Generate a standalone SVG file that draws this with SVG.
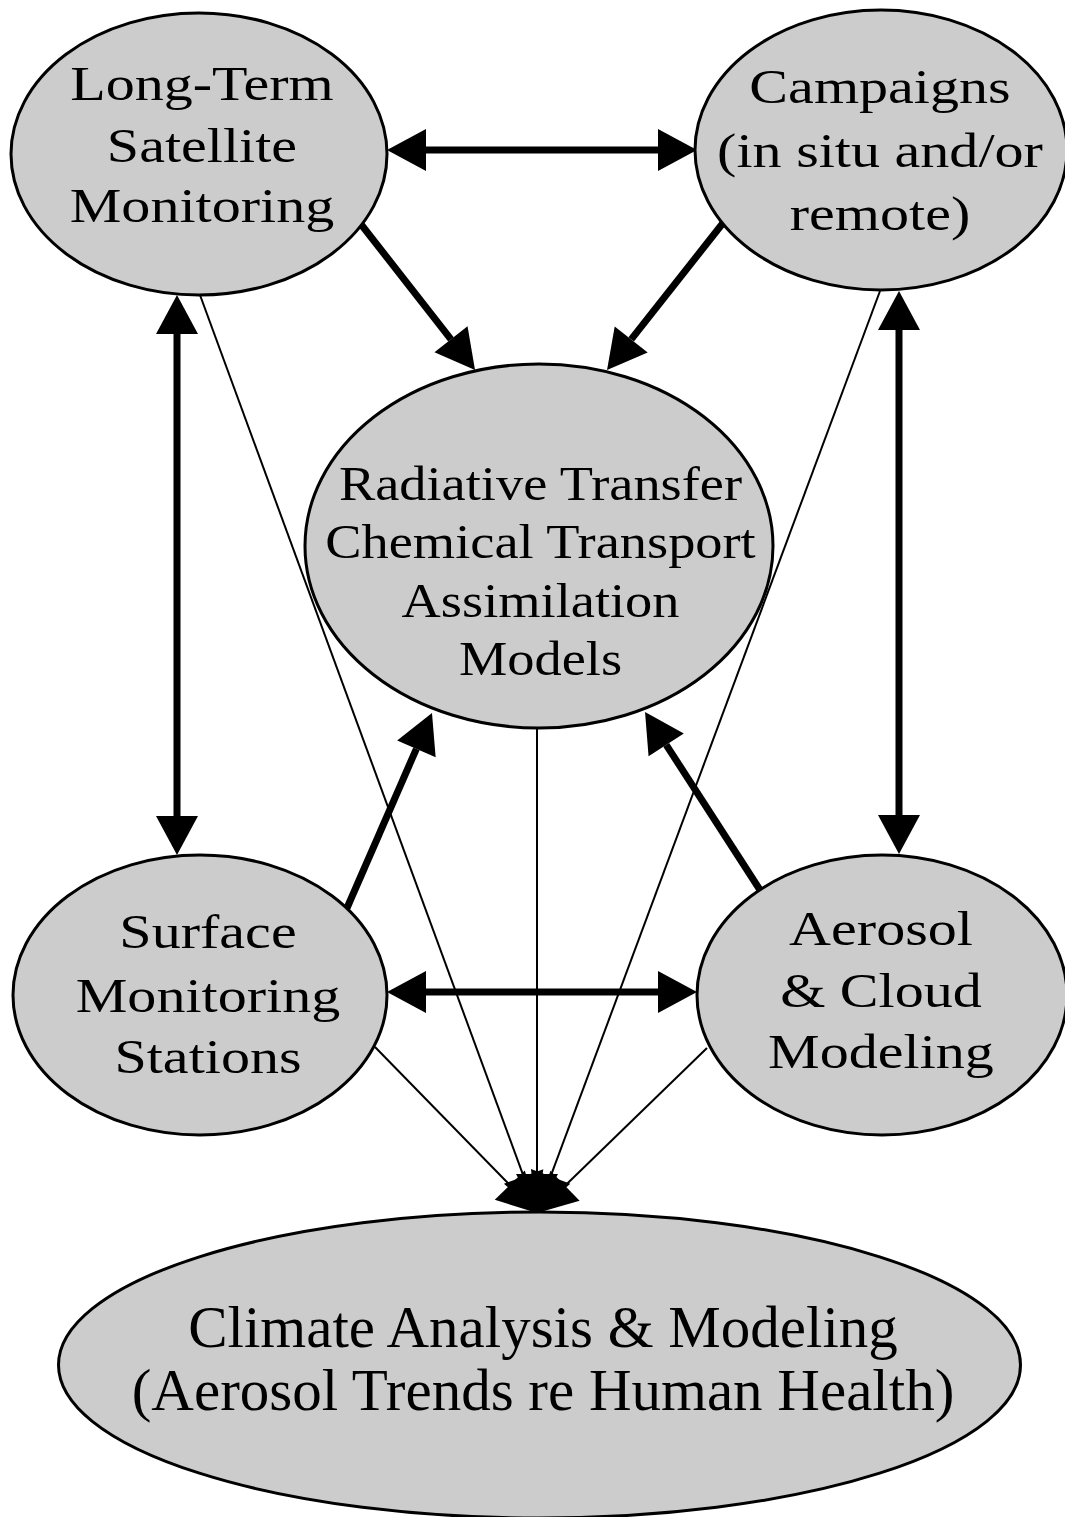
<svg xmlns="http://www.w3.org/2000/svg" width="1065" height="1517" viewBox="0 0 1065 1517">
<style>
.node ellipse{fill:#cccccc;stroke:#000;stroke-width:3}
.node text{font-family:"Liberation Serif","Times New Roman",serif;fill:#000;text-anchor:middle}
.outer text{font-size:48px}
.mid text{font-size:49px}
.big text{font-size:59px}
.thick{stroke:#000;stroke-width:7;fill:none}
.thin{stroke:#000;stroke-width:2;fill:none}
</style>
<defs>
<marker id="ah" markerUnits="userSpaceOnUse" markerWidth="40" markerHeight="42" viewBox="0 0 40 42" refX="0" refY="21" orient="auto-start-reverse" overflow="visible">
<path d="M0,0 L39,21 L0,42 Z" fill="#000"/>
</marker>
</defs>
<rect width="1065" height="1517" fill="#fff"/>
<g id="connectors">
<line class="thin" x1="200" y1="295" x2="523.6" y2="1176.4" marker-end="url(#ah)"/>
<line class="thin" x1="880" y1="291" x2="550.6" y2="1176.4" marker-end="url(#ah)"/>
<line class="thin" x1="537" y1="728" x2="537" y2="1174" marker-end="url(#ah)"/>
<line class="thin" x1="375" y1="1047" x2="509.8" y2="1185.1" marker-end="url(#ah)"/>
<line class="thin" x1="707" y1="1048" x2="565" y2="1185.8" marker-end="url(#ah)"/>
<line class="thick" x1="426" y1="150" x2="658" y2="150" marker-start="url(#ah)" marker-end="url(#ah)"/>
<line class="thick" x1="426" y1="992" x2="658" y2="992" marker-start="url(#ah)" marker-end="url(#ah)"/>
<line class="thick" x1="177" y1="334" x2="177" y2="816" marker-start="url(#ah)" marker-end="url(#ah)"/>
<line class="thick" x1="899" y1="330" x2="899" y2="815" marker-start="url(#ah)" marker-end="url(#ah)"/>
<line class="thick" x1="360" y1="223" x2="451" y2="339.3" marker-end="url(#ah)"/>
<line class="thick" x1="723" y1="223" x2="631.2" y2="339.4" marker-end="url(#ah)"/>
<line class="thick" x1="347" y1="908" x2="416.4" y2="748.8" marker-end="url(#ah)"/>
<line class="thick" x1="760" y1="890" x2="666.2" y2="744.8" marker-end="url(#ah)"/>
</g>
<g id="satellite" class="node outer">
<ellipse cx="199" cy="154" rx="188" ry="141"/>
<g transform="translate(202,0) scale(1.21,1)">
<text x="0" y="100">Long-Term</text>
<text x="0" y="162">Satellite</text>
<text x="0" y="222">Monitoring</text>
</g>
</g>
<g id="campaigns" class="node outer">
<ellipse cx="881" cy="150" rx="186" ry="140"/>
<g transform="translate(880,0) scale(1.21,1)">
<text x="0" y="103">Campaigns</text>
<text x="0" y="167">(in situ and/or</text>
<text x="0" y="230">remote)</text>
</g>
</g>
<g id="models" class="node mid">
<ellipse cx="539" cy="546" rx="234" ry="182"/>
<g transform="translate(540.5,0) scale(1.11,1)">
<text x="0" y="500">Radiative Transfer</text>
<text x="0" y="558">Chemical Transport</text>
<text x="0" y="617">Assimilation</text>
<text x="0" y="675">Models</text>
</g>
</g>
<g id="surface" class="node outer">
<ellipse cx="200" cy="995" rx="187" ry="140"/>
<g transform="translate(208,0) scale(1.21,1)">
<text x="0" y="948">Surface</text>
<text x="0" y="1012">Monitoring</text>
<text x="0" y="1073">Stations</text>
</g>
</g>
<g id="aerosol" class="node outer">
<ellipse cx="882" cy="995" rx="185" ry="140"/>
<g transform="translate(881,0) scale(1.21,1)">
<text x="0" y="945">Aerosol</text>
<text x="0" y="1007">&amp; Cloud</text>
<text x="0" y="1068">Modeling</text>
</g>
</g>
<g id="climate" class="node big">
<ellipse cx="539.5" cy="1365" rx="481" ry="153"/>
<text x="543" y="1347">Climate Analysis &amp; Modeling</text>
<text x="543" y="1410">(Aerosol Trends re Human Health)</text>
</g>
</svg>
